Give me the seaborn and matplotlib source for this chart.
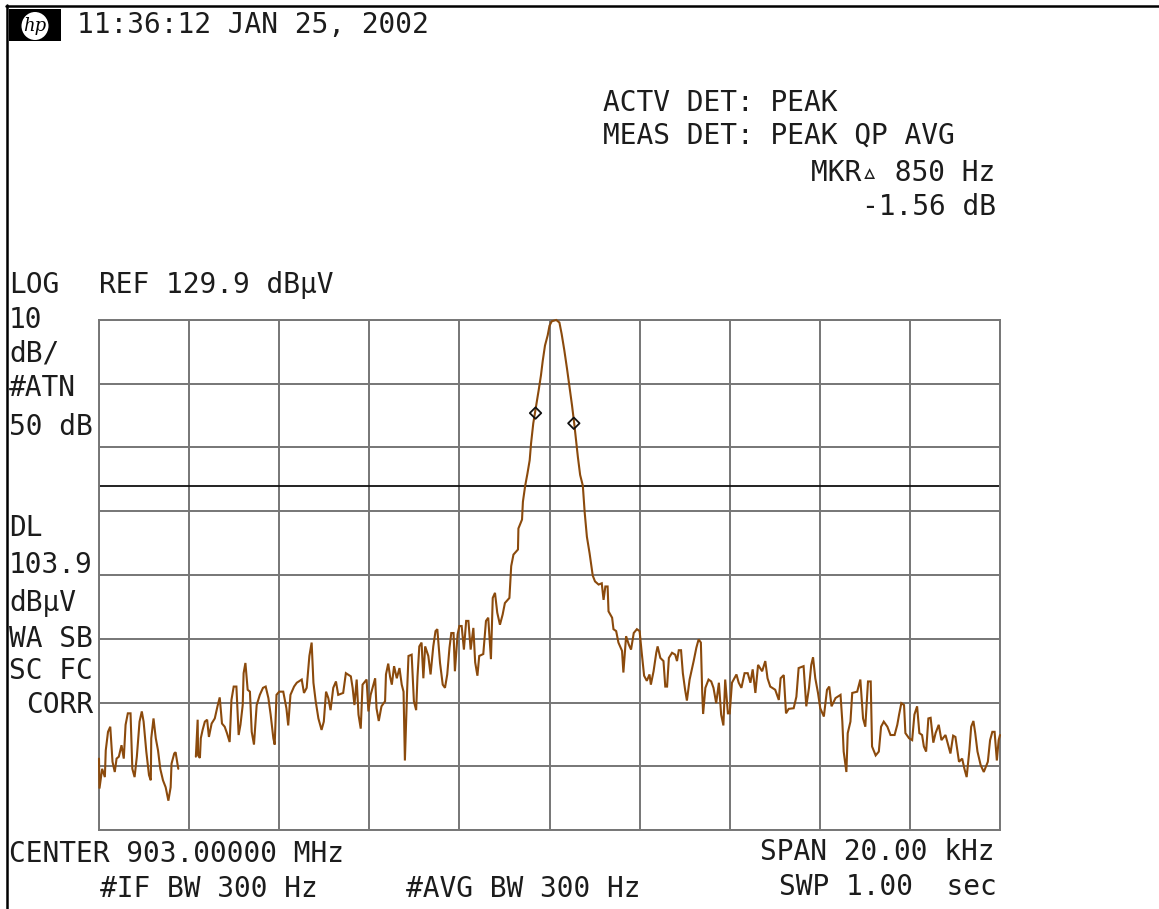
import matplotlib
matplotlib.use("Agg")
import matplotlib.pyplot as plt
import numpy as np
import pandas as pd
import seaborn as sns
from matplotlib.patches import Rectangle, Ellipse

# --- data (offset from centre in kHz, level in dBuV) ---
freq_a = [-10.00,-9.99,-9.93,-9.87,-9.85,-9.80,-9.75,-9.70,-9.65,-9.61,-9.56,-9.50,-9.45,-9.41,-9.36,-9.30,-9.26,-9.21,-9.16,-9.10,-9.05,-9.01,-8.95,-8.89,-8.85,-8.84,-8.79,-8.74,-8.69,-8.64,-8.58,-8.52,-8.46,-8.41,-8.39,-8.33,-8.30,-8.24]
level_a = [61.1,56.4,59.5,58.2,62.4,65.3,66.1,60.6,59.0,61.1,61.4,63.2,61.1,66.4,68.2,68.2,59.5,58.2,61.4,66.9,68.5,66.9,62.2,58.5,57.7,64.3,67.4,64.3,62.4,59.5,57.7,56.6,54.5,56.6,60.3,61.9,62.1,59.5]

freq_b = [-7.85,-7.81,-7.80,-7.76,-7.74,-7.70,-7.65,-7.60,-7.56,-7.50,-7.43,-7.37,-7.32,-7.27,-7.21,-7.16,-7.10,-7.06,-7.01,-6.95,-6.90,-6.86,-6.81,-6.79,-6.75,-6.70,-6.65,-6.61,-6.56,-6.50,-6.43,-6.36,-6.30,-6.24,-6.19,-6.13,-6.10,-6.06,-6.00,-5.91,-5.84,-5.80,-5.75,-5.67,-5.61,-5.50,-5.45,-5.39,-5.33,-5.28,-5.24,-5.19,-5.13,-5.06,-5.01,-4.96,-4.91,-4.86,-4.80,-4.74,-4.69,-4.58,-4.52,-4.41,-4.37,-4.33,-4.28,-4.24,-4.19,-4.15,-4.06,-4.02,-3.97,-3.87,-3.84,-3.79,-3.73,-3.65,-3.63,-3.58,-3.54,-3.50,-3.45,-3.39,-3.33,-3.28,-3.24,-3.21,-3.16,-3.13,-3.06,-3.01,-2.96,-2.93,-2.89,-2.84,-2.80,-2.76,-2.69,-2.64,-2.58,-2.53,-2.49,-2.43,-2.37,-2.32,-2.27,-2.22,-2.18,-2.13,-2.10,-2.04,-2.00,
          -1.95,-1.90,-1.85,-1.80,-1.75,-1.69,-1.65,-1.60,-1.56,-1.47,-1.41,-1.36,-1.30,-1.26,-1.21,-1.16,-1.10,-1.04,-0.99,-0.89,-0.85,-0.80,-0.70,-0.69,-0.61,-0.59,-0.54,-0.49,-0.44,-0.41,-0.36,-0.30,-0.24,-0.19,-0.15,-0.10,-0.04,0.00,0.05,0.15,0.22,0.27,0.33,0.39,0.44,0.50,0.55,0.59,0.63,0.68,0.74,0.78,0.83,0.89,0.96,1.01,1.09,1.16,1.20,1.24,1.29,1.31,1.39,1.42,1.48,1.53,1.61,1.64,1.70,1.76,1.81,1.87,1.94,2.00,2.05,2.10,2.16,2.22,
          2.25,2.31,2.37,2.40,2.46,2.53,2.57,2.61,2.65,2.72,2.79,2.83,2.87,2.92,2.96,3.01,3.05,3.11,3.20,3.26,3.31,3.36,3.39,3.41,3.46,3.53,3.59,3.64,3.70,3.76,3.81,3.86,3.90,3.96,4.00,4.05,4.15,4.20,4.26,4.33,4.40,4.46,4.51,4.57,4.63,4.72,4.79,4.84,4.90,5.01,5.09,5.13,5.20,5.25,5.31,5.42,5.48,5.53,5.64,5.70,5.76,5.81,5.85,5.90,5.96,6.01,6.09,6.16,6.21,6.26,6.35,6.46,6.50,6.53,6.59,6.62,6.68,6.72,6.83,6.90,6.96,7.01,7.07,7.13,7.16,7.24,7.31,7.36,7.42,7.50,7.57,7.66,7.72,7.76,7.81,7.87,7.90,7.98,8.05,8.10,8.16,8.21,8.27,8.31,8.36,8.41,8.46,8.52,8.57,8.64,8.70,8.79,8.87,8.90,8.96,9.01,9.09,9.16,9.21,9.26,9.32,9.36,9.41,9.45,9.50,9.57,9.64,9.73,9.78,9.83,9.88,9.93,9.97,10.00]
level_b = [61.4,67.2,61.6,61.2,64.3,65.6,66.9,67.2,64.5,66.6,67.4,69.3,70.7,66.6,66.1,65.1,63.7,70.3,72.4,72.4,64.8,66.4,69.5,74.5,76.1,71.9,71.6,65.3,63.3,69.5,71.1,72.2,72.4,70.6,68.0,64.3,63.3,71.1,71.6,71.6,69.0,66.3,71.1,72.4,73.0,73.5,71.4,72.2,77.2,79.3,73.0,70.1,67.4,65.6,66.9,71.6,70.6,68.7,72.2,73.2,71.1,71.4,74.5,74.0,72.2,69.5,73.5,68.0,65.8,72.7,73.5,68.5,71.1,73.7,69.0,67.0,69.3,70.1,74.3,76.0,74.0,72.7,75.6,73.7,75.3,72.7,71.6,60.8,71.9,77.2,77.4,70.1,68.7,74.0,78.7,79.3,73.7,78.7,77.2,74.3,78.7,81.1,81.4,76.1,72.7,72.2,74.3,78.5,80.8,80.8,74.8,80.6,81.9,
           81.9,78.2,82.7,82.7,78.2,81.6,76.2,74.1,77.2,77.5,82.7,83.2,76.7,86.3,87.1,84.0,82.1,83.7,85.5,86.3,91.3,93.1,93.9,97.2,98.6,101.4,103.9,105.8,107.9,110.5,113.7,116.3,118.9,121.2,123.5,125.9,127.5,129.0,129.7,129.9,129.5,127.7,125.1,122.2,119.6,116.5,113.6,111.0,108.4,105.6,103.9,99.8,95.9,93.3,89.8,88.9,88.4,88.6,86.0,88.1,88.1,84.2,83.2,81.4,81.1,79.3,78.0,74.6,80.3,79.0,78.2,80.8,81.4,81.1,77.5,74.1,73.3,74.3,
           72.7,74.8,77.7,78.7,76.9,76.4,72.4,72.4,76.9,77.7,77.4,76.4,78.1,78.1,74.5,71.9,70.2,73.5,76.4,78.5,79.8,79.3,71.4,68.1,72.2,73.5,73.2,72.2,69.8,73.0,68.0,66.3,73.5,68.2,68.2,73.0,74.3,73.0,72.2,74.5,74.5,73.0,75.1,71.4,75.8,74.8,76.4,73.7,72.4,71.9,70.3,73.7,74.2,68.2,68.9,69.0,70.8,75.3,75.6,69.3,72.2,75.8,77.0,73.7,71.4,69.0,67.7,71.9,72.4,69.3,70.6,71.1,66.9,62.2,59.0,65.1,66.9,71.4,71.6,73.5,67.4,66.1,73.2,73.2,63.0,61.6,62.2,66.1,66.9,66.1,64.8,64.8,66.4,68.0,69.8,69.5,65.1,64.3,64.0,68.0,69.3,65.1,64.8,63.0,62.2,67.4,67.5,63.6,65.1,66.4,64.0,64.8,62.7,61.9,64.7,64.5,60.6,61.1,59.5,58.2,62.4,66.1,67.0,65.1,62.2,60.1,59.0,60.6,64.0,65.3,65.3,60.8,64.0,64.8]

marker_freq = [-0.31, 0.54]
marker_level = [115.3, 113.7]
display_line = 103.9
x_ticks = [-10, -8, -6, -4, -2, 0, 2, 4, 6, 8, 10]
y_ticks = [49.9, 59.9, 69.9, 79.9, 89.9, 99.9, 109.9, 119.9, 129.9]

# (text, x px, y-centre px, horizontal alignment)
labels = [
    ("11:36:12 JAN 25, 2002", 77, 25, "left"),
    ("ACTV DET: PEAK", 603, 103, "left"),
    ("MEAS DET: PEAK QP AVG", 603, 136, "left"),
    ("MKR\u25b5 850 Hz", 995, 173, "right"),
    ("-1.56 dB", 996, 207, "right"),
    ("LOG", 9, 285, "left"),
    ("REF 129.9 dB\u00b5V", 99, 285, "left"),
    ("10", 9, 320, "left"),
    ("dB/", 9, 354, "left"),
    ("#ATN", 9, 388, "left"),
    ("50 dB", 9, 427, "left"),
    ("DL", 9, 528, "left"),
    ("103.9", 9, 565, "left"),
    ("dB\u00b5V", 9, 603, "left"),
    ("WA SB", 9, 639, "left"),
    ("SC FC", 9, 671, "left"),
    ("CORR", 26, 705, "left"),
    ("CENTER 903.00000 MHz", 9, 854, "left"),
    ("SPAN 20.00 kHz", 995, 852, "right"),
    ("#IF BW 300 Hz", 100, 889, "left"),
    ("#AVG BW 300 Hz", 406, 889, "left"),
    ("SWP 1.00  sec", 997, 887, "right"),
]

W, H = 1159, 909
sns.set_theme(style="white")
plt.rcParams["font.family"] = ["DejaVu Sans Mono", "DejaVu Sans"]

fig = plt.figure(figsize=(W / 100, H / 100), dpi=100, facecolor="white")
ax = fig.add_axes([99 / W, 1 - 830 / H, 901 / W, 510 / H])

GRID = "#767676"
TRACE = "#8b4a0c"
df_a = pd.DataFrame({"freq": freq_a, "level": level_a})
df_b = pd.DataFrame({"freq": freq_b, "level": level_b})
for df in (df_a, df_b):
    sns.lineplot(data=df, x="freq", y="level", estimator=None, sort=False, ax=ax,
                 color=TRACE, lw=1.5, zorder=3, solid_joinstyle="miter", clip_on=False)

ax.axhline(display_line, color="#111111", lw=1.3, zorder=2)
sns.scatterplot(x=marker_freq, y=marker_level, ax=ax, marker="D", s=34,
                facecolor="none", edgecolor="#111111", linewidth=1.3, zorder=4)

ax.set_xlim(-10, 10)
ax.set_ylim(49.9, 129.9)
ax.set_xticks(x_ticks)
ax.set_yticks(y_ticks)
ax.set_xticklabels([])
ax.set_yticklabels([])
ax.set_xlabel("")
ax.set_ylabel("")
ax.tick_params(length=0)
ax.grid(True, color=GRID, lw=1.4, zorder=1)
ax.set_axisbelow(True)
for s in ax.spines.values():
    s.set_color(GRID)
    s.set_linewidth(1.4)

for txt, x, y, ha in labels:
    fig.text(x / W, 1 - y / H, txt, ha=ha, va="center", fontsize=20.05, color="#1c1c1c")

# screen frame
fig.add_artist(plt.Line2D([7 / W, 7 / W], [0, 1 - 5 / H], color="black", lw=1.8))
fig.add_artist(plt.Line2D([6 / W, 1], [1 - 6 / H, 1 - 6 / H], color="black", lw=1.8))
# HP badge
fig.add_artist(Rectangle((9 / W, 1 - 41 / H), 52 / W, 32 / H, transform=fig.transFigure,
                         facecolor="black", edgecolor="none"))
fig.add_artist(Ellipse((35 / W, 1 - 26 / H), 27 / W, 28 / H, transform=fig.transFigure,
                       facecolor="white", edgecolor="none"))
fig.text(35 / W, 1 - 26 / H, "hp", ha="center", va="center", fontsize=13, style="italic",
         family="DejaVu Serif", color="black")

fig.savefig("out.png", dpi=100)
